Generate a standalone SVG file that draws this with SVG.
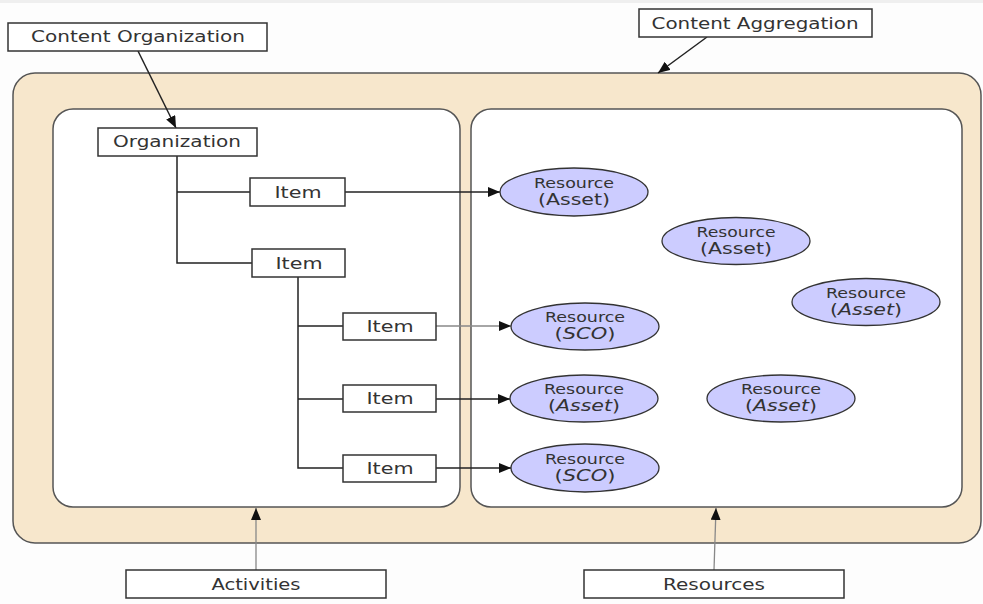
<svg xmlns="http://www.w3.org/2000/svg" width="983" height="604" viewBox="0 0 983 604">
<style>
text{font-family:"DejaVu Sans","Verdana",sans-serif;fill:#333;text-anchor:middle}
.box{fill:#fff;stroke:#333;stroke-width:1.5}
.el{fill:#ccccff;stroke:#333;stroke-width:1.3}
.t16{font-size:16px}
.t14{font-size:14px}
.ln{fill:none;stroke:#222;stroke-width:1.5}
.lg{fill:none;stroke:#888;stroke-width:1.3}
</style>
<defs>
<marker id="ah" markerWidth="14" markerHeight="12" refX="12" refY="5" orient="auto" markerUnits="userSpaceOnUse">
<path d="M0,0 L12,5 L0,10 z" fill="#111"/>
</marker>
</defs>
<rect x="0" y="0" width="983" height="604" fill="#fdfdfd"/>
<rect x="0" y="0" width="983" height="3" fill="#efefef"/>
<g id="aggregation">
<rect x="13" y="73" width="968" height="470" rx="22" fill="#f7e7cc" stroke="#555" stroke-width="1.5"/>
</g>
<g id="activities-area"><rect x="53" y="109" width="407" height="398" rx="20" fill="#fff" stroke="#555" stroke-width="1.5"/></g>
<g id="resources-area"><rect x="471" y="109" width="491" height="398" rx="20" fill="#fff" stroke="#555" stroke-width="1.5"/></g>

<g id="connectors">
<line class="ln" x1="138" y1="51" x2="176" y2="128" marker-end="url(#ah)"/>
<line class="ln" x1="707" y1="37" x2="658" y2="73" marker-end="url(#ah)"/>
<polyline class="ln" points="177,156 177,263 252,263"/>
<line class="ln" x1="177" y1="192" x2="250" y2="192"/>
<polyline class="ln" points="298,277 298,468 343,468"/>
<line class="ln" x1="298" y1="326" x2="343" y2="326"/>
<line class="ln" x1="298" y1="399" x2="343" y2="399"/>
<line class="ln" x1="345" y1="192" x2="500" y2="192" marker-end="url(#ah)"/>
<line class="lg" x1="436" y1="326" x2="511" y2="326" marker-end="url(#ah)"/>
<line class="ln" x1="436" y1="399" x2="510" y2="399" marker-end="url(#ah)"/>
<line class="ln" x1="436" y1="468" x2="511" y2="468" marker-end="url(#ah)"/>
<line class="lg" x1="256" y1="570" x2="256" y2="508" marker-end="url(#ah)"/>
<line class="lg" x1="714" y1="570" x2="716" y2="508" marker-end="url(#ah)"/>
</g>

<g id="content-organization"><rect class="box" x="8" y="23" width="259" height="28"/><text class="t16" x="138" y="42" textLength="214" lengthAdjust="spacingAndGlyphs">Content Organization</text></g>
<g id="content-aggregation"><rect class="box" x="639" y="9" width="233" height="28"/><text class="t16" x="755" y="29" textLength="207" lengthAdjust="spacingAndGlyphs">Content Aggregation</text></g>
<g id="organization"><rect class="box" x="98" y="128" width="159" height="28"/><text class="t16" x="177" y="147" textLength="128" lengthAdjust="spacingAndGlyphs">Organization</text></g>
<g id="item1"><rect class="box" x="250" y="178" width="95" height="28"/><text class="t16" x="298" y="198" textLength="47" lengthAdjust="spacingAndGlyphs">Item</text></g>
<g id="item2"><rect class="box" x="252" y="249" width="93" height="28"/><text class="t16" x="299" y="269" textLength="47" lengthAdjust="spacingAndGlyphs">Item</text></g>
<g id="item3"><rect class="box" x="343" y="313" width="93" height="27"/><text class="t16" x="390" y="332" textLength="47" lengthAdjust="spacingAndGlyphs">Item</text></g>
<g id="item4"><rect class="box" x="343" y="385" width="93" height="27"/><text class="t16" x="390" y="404" textLength="47" lengthAdjust="spacingAndGlyphs">Item</text></g>
<g id="item5"><rect class="box" x="343" y="455" width="93" height="27"/><text class="t16" x="390" y="474" textLength="47" lengthAdjust="spacingAndGlyphs">Item</text></g>

<g id="res1"><ellipse class="el" cx="574" cy="192" rx="74" ry="24"/><text class="t14" x="574" y="188" textLength="80" lengthAdjust="spacingAndGlyphs">Resource</text><text class="t16" x="574" y="205" textLength="72" lengthAdjust="spacingAndGlyphs">(Asset)</text></g>
<g id="res2"><ellipse class="el" cx="736" cy="241" rx="74" ry="23.5"/><text class="t14" x="736" y="237" textLength="79" lengthAdjust="spacingAndGlyphs">Resource</text><text class="t16" x="736" y="254" textLength="72" lengthAdjust="spacingAndGlyphs">(Asset)</text></g>
<g id="res3"><ellipse class="el" cx="866" cy="302" rx="74" ry="23.5"/><text class="t14" x="866" y="298" textLength="80" lengthAdjust="spacingAndGlyphs">Resource</text><text class="t16" x="866" y="315" textLength="72" lengthAdjust="spacingAndGlyphs">(<tspan font-style="italic">Asset</tspan>)</text></g>
<g id="res4"><ellipse class="el" cx="585" cy="326.5" rx="74" ry="23.5"/><text class="t14" x="585" y="322" textLength="80" lengthAdjust="spacingAndGlyphs">Resource</text><text class="t16" x="585" y="339" textLength="61" lengthAdjust="spacingAndGlyphs">(<tspan font-style="italic">SCO</tspan>)</text></g>
<g id="res5"><ellipse class="el" cx="584" cy="398.5" rx="74" ry="23.5"/><text class="t14" x="584" y="394" textLength="80" lengthAdjust="spacingAndGlyphs">Resource</text><text class="t16" x="584" y="411" textLength="72" lengthAdjust="spacingAndGlyphs">(<tspan font-style="italic">Asset</tspan>)</text></g>
<g id="res6"><ellipse class="el" cx="781" cy="398.5" rx="74" ry="23.5"/><text class="t14" x="781" y="394" textLength="80" lengthAdjust="spacingAndGlyphs">Resource</text><text class="t16" x="781" y="411" textLength="72" lengthAdjust="spacingAndGlyphs">(<tspan font-style="italic">Asset</tspan>)</text></g>
<g id="res7"><ellipse class="el" cx="585" cy="468" rx="74" ry="24"/><text class="t14" x="585" y="464" textLength="80" lengthAdjust="spacingAndGlyphs">Resource</text><text class="t16" x="585" y="481" textLength="61" lengthAdjust="spacingAndGlyphs">(<tspan font-style="italic">SCO</tspan>)</text></g>

<g id="activities"><rect class="box" x="126" y="570" width="260" height="28"/><text class="t16" x="256" y="590" textLength="89" lengthAdjust="spacingAndGlyphs">Activities</text></g>
<g id="resources"><rect class="box" x="584" y="570" width="260" height="28"/><text class="t16" x="714" y="590" textLength="102" lengthAdjust="spacingAndGlyphs">Resources</text></g>
</svg>
